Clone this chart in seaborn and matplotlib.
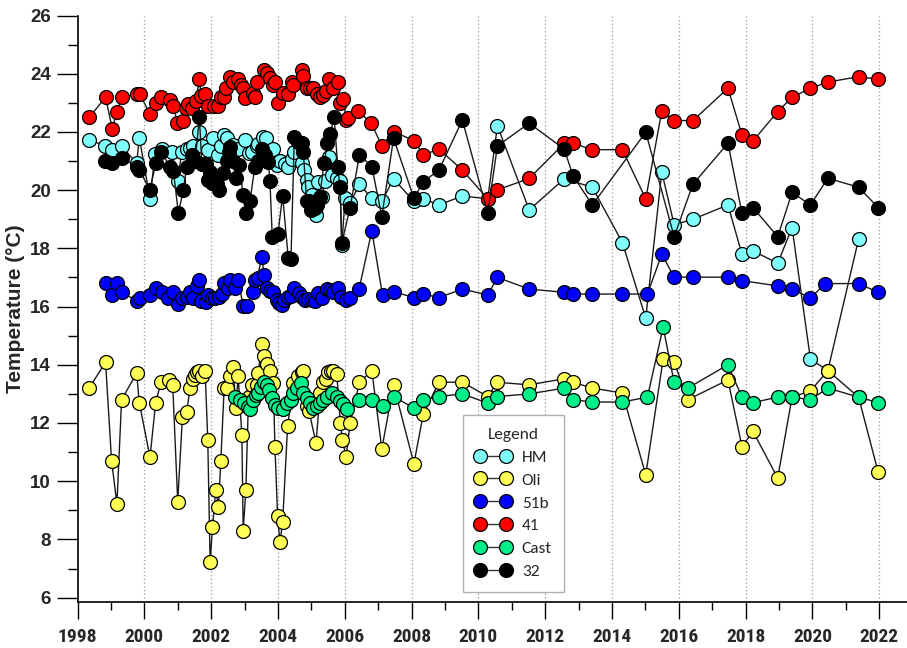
import matplotlib
matplotlib.use("Agg")
import matplotlib.pyplot as plt
from matplotlib import font_manager
from matplotlib.lines import Line2D
from matplotlib.ticker import MultipleLocator
import seaborn as sns
import pandas as pd

# ---- measurements: sampling date (decimal year) and water temperature (°C) ----
hm_year = [1998.35, 1998.82, 1999.02, 1999.32, 1999.77, 1999.85, 2000.17, 2000.32, 2000.52, 2000.82,
           2001.00, 2001.12, 2001.27, 2001.37, 2001.47, 2001.65, 2001.72, 2001.90, 2002.05, 2002.22,
           2002.30, 2002.40, 2002.47, 2002.66, 2002.81, 2003.01, 2003.12, 2003.21, 2003.36, 2003.41,
           2003.56, 2003.64, 2003.84, 2003.96, 2004.06, 2004.20, 2004.31, 2004.41, 2004.48, 2004.71,
           2004.79, 2004.86, 2004.91, 2005.01, 2005.14, 2005.21, 2005.31, 2005.41, 2005.54, 2005.61,
           2005.76, 2005.86, 2005.91, 2006.01, 2006.16, 2006.44, 2006.81, 2007.11, 2007.46, 2008.07,
           2008.35, 2008.82, 2009.52, 2010.28, 2010.57, 2011.52, 2012.57, 2013.41, 2014.31, 2015.01,
           2015.49, 2015.86, 2016.42, 2017.47, 2017.89, 2018.22, 2018.96, 2019.39, 2019.94, 2020.46,
           2021.38]
hm_temp = [21.72, 21.53, 21.38, 21.52, 20.92, 21.80, 19.70, 21.23, 21.40, 21.30,
           20.32, 21.32, 21.40, 21.45, 21.50, 21.99, 21.50, 21.38, 21.80, 21.21,
           21.50, 21.90, 21.78, 21.55, 21.40, 21.72, 21.27, 21.32, 21.50, 21.58,
           21.84, 21.80, 21.40, 20.87, 21.00, 20.90, 20.79, 21.07, 21.30, 20.92,
           20.69, 20.35, 20.12, 19.85, 19.15, 20.29, 19.78, 20.30, 21.15, 20.52,
           20.41, 20.32, 18.10, 19.72, 19.55, 20.20, 19.72, 19.61, 20.39, 19.61,
           19.70, 19.49, 19.80, 19.70, 22.21, 19.32, 20.39, 20.10, 18.20, 15.60,
           20.62, 18.81, 19.00, 19.49, 17.80, 17.91, 17.49, 18.71, 14.19, 13.80,
           18.31]

oli_year = [1998.35, 1998.84, 1999.02, 1999.18, 1999.32, 1999.77, 1999.85, 2000.17, 2000.34, 2000.50,
            2000.75, 2000.85, 2001.00, 2001.14, 2001.27, 2001.37, 2001.45, 2001.52, 2001.57, 2001.65,
            2001.72, 2001.82, 2001.90, 2001.97, 2002.04, 2002.14, 2002.22, 2002.29, 2002.39, 2002.47,
            2002.57, 2002.66, 2002.74, 2002.81, 2002.92, 2002.96, 2003.04, 2003.12, 2003.22, 2003.36,
            2003.41, 2003.51, 2003.58, 2003.68, 2003.76, 2003.86, 2003.91, 2003.99, 2004.06, 2004.14,
            2004.29, 2004.46, 2004.61, 2004.71, 2004.76, 2004.86, 2004.93, 2005.14, 2005.26, 2005.36,
            2005.44, 2005.51, 2005.58, 2005.66, 2005.76, 2005.87, 2005.93, 2006.04, 2006.16, 2006.44,
            2006.81, 2007.11, 2007.46, 2008.07, 2008.35, 2008.82, 2009.52, 2010.28, 2010.57, 2011.52,
            2012.57, 2012.83, 2013.41, 2014.31, 2015.01, 2015.53, 2015.86, 2016.27, 2017.47, 2017.89,
            2018.22, 2018.96, 2019.39, 2019.94, 2020.46, 2021.38, 2021.97]
oli_temp = [13.20, 14.09, 10.70, 9.22, 12.80, 13.71, 12.70, 10.82, 12.70, 13.40,
            13.48, 13.31, 9.30, 12.19, 12.39, 13.20, 13.50, 13.65, 13.75, 13.80,
            13.60, 13.80, 11.40, 7.21, 8.41, 9.71, 9.11, 10.70, 13.20, 13.20,
            13.60, 13.92, 12.51, 13.60, 11.59, 8.30, 9.71, 12.90, 13.30, 13.31,
            13.71, 14.71, 14.31, 14.02, 13.80, 13.39, 11.19, 8.82, 7.90, 8.59,
            11.90, 13.39, 13.60, 13.75, 13.80, 12.60, 12.40, 11.31, 13.03, 13.40,
            13.50, 13.75, 13.80, 13.80, 13.70, 12.00, 11.42, 10.82, 12.00, 13.40,
            13.80, 11.11, 13.31, 10.60, 12.30, 13.40, 13.40, 12.91, 13.40, 13.31,
            13.52, 13.40, 13.20, 13.03, 10.22, 14.19, 14.09, 12.80, 13.48, 11.19,
            11.71, 10.11, 12.89, 13.10, 13.80, 12.89, 10.30]

s51b_year = [1998.84, 1999.02, 1999.17, 1999.32, 1999.77, 1999.87, 2000.17, 2000.34, 2000.52, 2000.72,
             2000.85, 2001.00, 2001.14, 2001.27, 2001.37, 2001.47, 2001.57, 2001.65, 2001.70, 2001.84,
             2001.92, 2002.02, 2002.12, 2002.24, 2002.32, 2002.40, 2002.50, 2002.57, 2002.70, 2002.81,
             2002.96, 2003.07, 2003.26, 2003.31, 2003.39, 2003.51, 2003.59, 2003.66, 2003.76, 2003.86,
             2003.96, 2004.04, 2004.11, 2004.19, 2004.31, 2004.39, 2004.49, 2004.63, 2004.71, 2004.81,
             2004.91, 2005.01, 2005.11, 2005.19, 2005.31, 2005.46, 2005.56, 2005.66, 2005.81, 2005.89,
             2006.03, 2006.16, 2006.43, 2006.81, 2007.13, 2007.46, 2008.08, 2008.35, 2008.82, 2009.52,
             2010.28, 2010.57, 2011.52, 2012.57, 2012.83, 2013.41, 2014.31, 2015.06, 2015.49, 2015.86,
             2016.42, 2017.47, 2017.89, 2018.96, 2019.39, 2019.94, 2020.38, 2021.38, 2021.97]
s51b_temp = [16.80, 16.40, 16.80, 16.49, 16.20, 16.31, 16.40, 16.63, 16.51, 16.31,
             16.51, 16.09, 16.31, 16.34, 16.51, 16.31, 16.69, 16.92, 16.20, 16.17,
             16.40, 16.29, 16.29, 16.34, 16.43, 16.80, 16.63, 16.92, 16.63, 16.92,
             16.02, 16.02, 16.51, 16.92, 16.98, 17.70, 17.09, 16.63, 16.55, 16.49,
             16.23, 16.12, 16.06, 16.23, 16.34, 16.37, 16.63, 16.46, 16.34, 16.23,
             16.26, 16.23, 16.20, 16.46, 16.31, 16.61, 16.57, 16.51, 16.63, 16.34,
             16.23, 16.31, 16.61, 18.60, 16.40, 16.51, 16.31, 16.43, 16.31, 16.60,
             16.40, 17.00, 16.60, 16.49, 16.43, 16.43, 16.43, 16.43, 17.80, 17.01,
             17.01, 17.01, 16.89, 16.71, 16.60, 16.29, 16.79, 16.79, 16.49]

s41_year = [1998.35, 1998.84, 1999.04, 1999.18, 1999.34, 1999.77, 1999.87, 2000.17, 2000.34, 2000.50,
            2000.77, 2000.87, 2000.99, 2001.17, 2001.25, 2001.32, 2001.44, 2001.54, 2001.65, 2001.70,
            2001.82, 2001.90, 2002.10, 2002.22, 2002.29, 2002.40, 2002.44, 2002.57, 2002.66, 2002.81,
            2002.90, 2002.96, 2003.00, 2003.26, 2003.31, 2003.38, 2003.58, 2003.68, 2003.76, 2003.86,
            2003.91, 2004.01, 2004.14, 2004.29, 2004.41, 2004.46, 2004.71, 2004.76, 2004.86, 2004.96,
            2005.04, 2005.18, 2005.26, 2005.36, 2005.44, 2005.54, 2005.66, 2005.81, 2005.86, 2005.96,
            2006.04, 2006.11, 2006.41, 2006.79, 2007.11, 2007.46, 2008.07, 2008.35, 2008.82, 2009.52,
            2010.28, 2010.57, 2011.52, 2012.57, 2012.83, 2013.41, 2014.31, 2015.01, 2015.49, 2015.86,
            2016.42, 2017.47, 2017.89, 2018.22, 2018.96, 2019.39, 2019.94, 2020.46, 2021.38, 2021.97]
s41_temp = [22.50, 23.19, 22.11, 22.70, 23.20, 23.29, 23.29, 22.61, 22.98, 23.20,
            23.10, 22.90, 22.30, 22.38, 22.81, 22.96, 22.81, 23.07, 23.81, 23.23,
            23.31, 22.90, 22.90, 22.90, 23.19, 23.21, 23.50, 23.90, 23.73, 23.81,
            23.61, 23.50, 23.16, 23.33, 23.21, 23.73, 24.13, 24.01, 23.84, 23.61,
            23.73, 22.98, 23.33, 23.30, 23.73, 23.61, 24.13, 23.93, 23.50, 23.50,
            23.50, 23.29, 23.21, 23.27, 23.41, 23.82, 23.50, 23.73, 23.00, 23.12,
            22.41, 22.49, 22.72, 22.30, 21.53, 22.01, 21.70, 21.21, 21.41, 20.69,
            19.70, 20.01, 20.40, 21.61, 21.61, 21.39, 21.39, 19.70, 22.72, 22.39,
            22.39, 23.50, 21.90, 21.69, 22.70, 23.19, 23.50, 23.71, 23.90, 23.81]

cast_year = [2002.72, 2002.87, 2002.97, 2003.11, 2003.16, 2003.26, 2003.34, 2003.41, 2003.50, 2003.58,
             2003.66, 2003.74, 2003.81, 2003.91, 2004.01, 2004.14, 2004.26, 2004.38, 2004.46, 2004.56,
             2004.69, 2004.76, 2004.86, 2004.96, 2005.06, 2005.16, 2005.26, 2005.36, 2005.46, 2005.61,
             2005.76, 2005.86, 2005.96, 2006.06, 2006.44, 2006.81, 2007.13, 2007.46, 2008.07, 2008.35,
             2008.82, 2009.52, 2010.28, 2010.57, 2011.52, 2012.57, 2012.83, 2013.41, 2014.31, 2015.06,
             2015.53, 2015.86, 2016.27, 2017.47, 2017.89, 2018.22, 2018.96, 2019.39, 2019.94, 2020.46,
             2021.38, 2021.97]
cast_temp = [12.91, 12.80, 12.70, 12.55, 12.49, 12.80, 12.97, 13.03, 13.25, 13.42,
             13.30, 13.14, 12.85, 12.62, 12.51, 12.49, 12.68, 12.80, 13.03, 13.20,
             13.39, 13.03, 12.85, 12.70, 12.51, 12.57, 12.70, 12.80, 12.91, 13.03,
             12.91, 12.74, 12.66, 12.49, 12.80, 12.80, 12.60, 12.91, 12.51, 12.80,
             12.91, 13.00, 12.68, 12.91, 13.00, 13.20, 12.80, 12.72, 12.72, 12.89,
             15.29, 13.40, 13.20, 14.00, 12.89, 12.70, 12.89, 12.89, 12.80, 13.20,
             12.89, 12.70]

s32_year = [1998.82, 1999.02, 1999.34, 1999.77, 1999.85, 2000.17, 2000.34, 2000.50, 2000.77, 2000.87,
            2001.02, 2001.17, 2001.27, 2001.42, 2001.52, 2001.65, 2001.72, 2001.85, 2001.92, 2001.97,
            2002.02, 2002.12, 2002.18, 2002.24, 2002.35, 2002.47, 2002.54, 2002.57, 2002.66, 2002.74,
            2002.84, 2002.96, 2003.04, 2003.16, 2003.31, 2003.41, 2003.51, 2003.61, 2003.71, 2003.76,
            2003.83, 2004.00, 2004.14, 2004.31, 2004.39, 2004.49, 2004.61, 2004.71, 2004.76, 2004.86,
            2004.93, 2004.99, 2005.11, 2005.18, 2005.25, 2005.38, 2005.48, 2005.56, 2005.68, 2005.79,
            2005.86, 2005.91, 2006.16, 2006.44, 2006.81, 2007.11, 2007.46, 2008.07, 2008.35, 2008.82,
            2009.52, 2010.28, 2010.57, 2011.52, 2012.57, 2012.83, 2013.41, 2015.01, 2015.86, 2016.42,
            2017.47, 2017.89, 2018.22, 2018.96, 2019.39, 2019.94, 2020.46, 2021.38, 2021.97]
s32_temp = [21.00, 20.92, 21.10, 20.81, 20.69, 20.01, 20.92, 21.32, 20.81, 20.66,
            19.21, 20.01, 20.81, 21.21, 21.00, 22.50, 20.90, 20.90, 20.35, 20.64,
            20.24, 20.46, 20.20, 20.01, 20.60, 21.00, 21.32, 21.49, 21.00, 20.41,
            20.86, 19.84, 19.21, 19.61, 20.81, 21.00, 21.42, 21.20, 20.98, 20.32,
            18.39, 18.50, 19.81, 17.66, 17.64, 21.84, 21.67, 21.61, 21.30, 19.63,
            19.61, 19.32, 19.40, 19.49, 19.78, 20.92, 21.61, 21.92, 22.52, 20.81,
            20.12, 18.18, 19.40, 21.21, 20.81, 19.09, 21.78, 19.72, 20.29, 20.69,
            22.41, 19.21, 21.52, 22.30, 21.41, 20.50, 19.49, 21.99, 18.40, 20.20,
            21.61, 19.21, 19.40, 18.40, 19.92, 19.49, 20.41, 20.10, 19.40]

station_names = ["HM", "Oli", "51b", "41", "Cast", "32"]
station_colors = ["#80FFFF", "#FFFF55", "#0000FF", "#FF0000", "#00EE88", "#000000"]
year_ticks = list(range(1998, 2023, 2))
temp_ticks = list(range(6, 27, 2))

series = [(hm_year, hm_temp), (oli_year, oli_temp), (s51b_year, s51b_temp),
          (s41_year, s41_temp), (cast_year, cast_temp), (s32_year, s32_temp)]

frames = []
for name, (yrs, tmp) in zip(station_names, series):
    frames.append(pd.DataFrame({"station": name, "year": yrs, "temp": tmp}))
data = pd.concat(frames, ignore_index=True)


def first_font(*names):
    """Return the first family that resolves to a real font file (bold)."""
    for n in names:
        try:
            font_manager.findfont(font_manager.FontProperties(family=n, weight="bold"),
                                  fallback_to_default=False)
            return n
        except Exception:
            continue
    return "DejaVu Sans"


axis_font = first_font("Liberation Sans", "Arial")
narrow_font = first_font("Liberation Sans Narrow", "Arial Narrow", "Roboto Condensed",
                         "Archivo Narrow", "PT Sans Narrow", "Arimo", "Liberation Sans")
legend_font = first_font("Carlito", "Lato", "Open Sans")

sns.set_theme(style="white")
plt.rcParams["font.family"] = [axis_font, "DejaVu Sans"]

fig = plt.figure(figsize=(9.07, 6.48), dpi=100)
ax = fig.add_axes([77.5 / 907, 46 / 648, 829.5 / 907, 586.5 / 648])

line_col = "#1a1a1a"
for name, col in zip(station_names, station_colors):
    sub = data[data["station"] == name]
    sns.lineplot(data=sub, x="year", y="temp", ax=ax, sort=False, estimator=None,
                 color=line_col, lw=1.0, marker="o", markersize=10,
                 markerfacecolor=col, markeredgecolor="black", markeredgewidth=0.9,
                 legend=False)

ax.set_xlim(1998, 2022.83)
ax.set_ylim(5.85, 26)
ax.set_xticks(year_ticks)
ax.set_yticks(temp_ticks)
ax.xaxis.set_minor_locator(MultipleLocator(1))
ax.yaxis.set_minor_locator(MultipleLocator(1))
ax.set_xticklabels([str(y) for y in year_ticks], fontweight="bold", fontsize=14,
                   family=narrow_font)
ax.set_yticklabels([str(t) for t in temp_ticks], fontweight="bold", fontsize=13.5,
                   family=axis_font)

ax.tick_params(axis="x", which="major", direction="out", length=12, width=1, color="black",
               bottom=True, pad=7)
ax.tick_params(axis="x", which="minor", direction="out", length=6, width=1, color="black",
               bottom=True)
ax.tick_params(axis="y", which="major", direction="out", length=15, width=1, color="black",
               left=True, pad=4)
ax.tick_params(axis="y", which="minor", direction="out", length=7, width=1, color="black",
               left=True)

for s in ["top", "right"]:
    ax.spines[s].set_visible(False)
for s in ["left", "bottom"]:
    ax.spines[s].set_color("black")
    ax.spines[s].set_linewidth(1.2)

ax.grid(False)
for y in year_ticks[1:]:
    ax.axvline(y, color="#999999", linestyle=(0, (1, 2)), lw=0.9, zorder=0)

ax.set_xlabel("")
ax.set_ylabel("Temperature (°C)", fontsize=15, fontweight="bold", labelpad=4,
              family=axis_font)

handles = [Line2D([0], [0], color="#333333", lw=1.0, marker="o", markersize=10,
                  markerfacecolor=c, markeredgecolor="black", markeredgewidth=0.9)
           for c in station_colors]
leg = ax.legend(handles, station_names, title="Legend", loc="lower left",
                bbox_to_anchor=(0.454, 0.003), numpoints=2, handlelength=2.1,
                labelspacing=0.45, borderpad=0.7,
                handletextpad=0.6, fancybox=False, framealpha=1, edgecolor="#b0b0b0",
                prop={"family": legend_font, "size": 12.5}, title_fontsize=12.5)
leg.get_title().set_family(legend_font)
leg.get_frame().set_linewidth(1.0)

fig.savefig("out.png", dpi=100)
